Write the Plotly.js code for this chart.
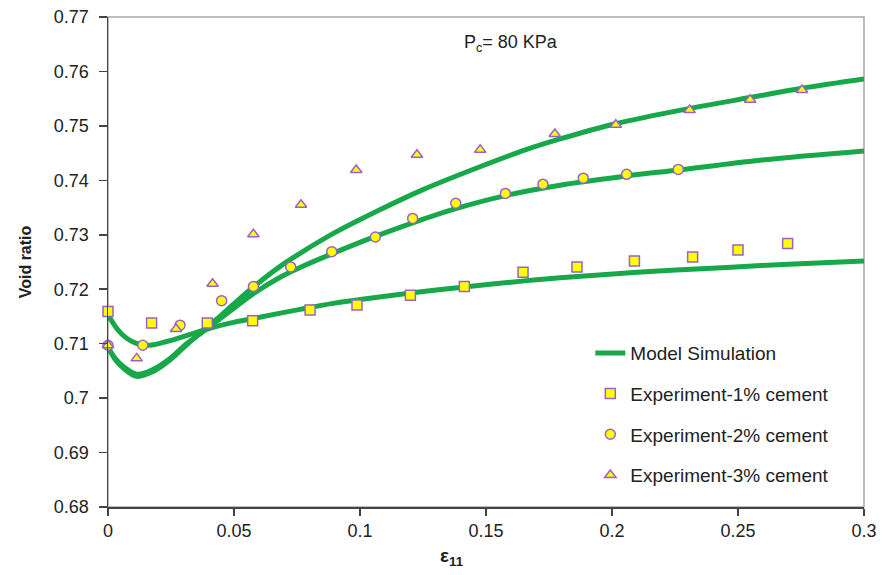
<!DOCTYPE html>
<html>
<head>
<meta charset="utf-8">
<script src="https://cdn.plot.ly/plotly-3.0.1.min.js"></script>
<style>html,body{margin:0;padding:0;background:#fff;}#chart{width:883px;height:575px;}</style>
</head>
<body>
<div id="chart"></div>
<script>
// Model simulation curves
var model1X = [0, 0.004, 0.0074, 0.011, 0.014, 0.018, 0.0233, 0.0339, 0.0394, 0.0497, 0.0574, 0.0762, 0.0893, 0.10, 0.12, 0.1414, 0.16, 0.1794, 0.21, 0.2455, 0.27, 0.3];
var model1Y = [0.7153, 0.7125, 0.7110, 0.7101, 0.7097, 0.7098, 0.7104, 0.7119, 0.7127, 0.7139, 0.7146, 0.7163, 0.7174, 0.7181, 0.7193, 0.7204, 0.7213, 0.7221, 0.7231, 0.7240, 0.7246, 0.7252];

var model2X = [0, 0.003, 0.0061, 0.0114, 0.018, 0.0246, 0.0312, 0.0392, 0.0451, 0.0497, 0.0577, 0.0683, 0.0762, 0.0888, 0.1061, 0.1209, 0.138, 0.1577, 0.1794, 0.2058, 0.2263, 0.2587, 0.3];
var model2Y = [0.7094, 0.7072, 0.7058, 0.7044, 0.7053, 0.7073, 0.7100, 0.7127, 0.7148, 0.7164, 0.7192, 0.7222, 0.7240, 0.7265, 0.7297, 0.7322, 0.7348, 0.7372, 0.7391, 0.7408, 0.7419, 0.7437, 0.7454];

var model3X = [0, 0.003, 0.0061, 0.0114, 0.018, 0.0246, 0.0312, 0.0392, 0.0451, 0.0497, 0.0577, 0.0683, 0.0762, 0.09, 0.1079, 0.125, 0.1476, 0.165, 0.1794, 0.2015, 0.2308, 0.2548, 0.2754, 0.3];
var model3Y = [0.7094, 0.7070, 0.7055, 0.7040, 0.7049, 0.7070, 0.7098, 0.7130, 0.7153, 0.7172, 0.7204, 0.7242, 0.7266, 0.7304, 0.7346, 0.7383, 0.7425, 0.7455, 0.7476, 0.7504, 0.7532, 0.7552, 0.7569, 0.7586];

// Experiments
var exp1X = [0, 0.0173, 0.0394, 0.0574, 0.0802, 0.0988, 0.12, 0.1414, 0.1647, 0.1861, 0.2089, 0.232, 0.25, 0.2697];
var exp1Y = [0.7159, 0.7138, 0.7138, 0.7142, 0.7162, 0.7171, 0.7189, 0.7205, 0.7231, 0.7241, 0.7252, 0.7259, 0.7272, 0.7284];

var exp2X = [0, 0.0138, 0.0286, 0.0451, 0.0577, 0.0725, 0.0888, 0.1061, 0.1209, 0.138, 0.1577, 0.1726, 0.1886, 0.2058, 0.2263];
var exp2Y = [0.7097, 0.7097, 0.7134, 0.7179, 0.7205, 0.7241, 0.7269, 0.7296, 0.7330, 0.7358, 0.7376, 0.7393, 0.7404, 0.7411, 0.7420];

var exp3X = [0, 0.0114, 0.027, 0.0415, 0.0577, 0.0766, 0.0985, 0.1226, 0.1477, 0.1773, 0.2015, 0.2308, 0.2548, 0.2754];
var exp3Y = [0.7097, 0.7073, 0.7127, 0.7210, 0.7301, 0.7355, 0.7419, 0.7447, 0.7456, 0.7485, 0.7502, 0.7529, 0.7548, 0.7566];

var xTicks = [0, 0.05, 0.1, 0.15, 0.2, 0.25, 0.3];
var yTicks = [0.68, 0.69, 0.70, 0.71, 0.72, 0.73, 0.74, 0.75, 0.76, 0.77];
var yTickText = ['0.68', '0.69', '0.7', '0.71', '0.72', '0.73', '0.74', '0.75', '0.76', '0.77'];
var xTickText = ['0', '0.05', '0.1', '0.15', '0.2', '0.25', '0.3'];

var GREEN = '#17a84a';
var FILL = '#ffff00';
var EDGE = '#9a62c8';
var FONT = 'Liberation Sans, Arial, sans-serif';

function modelTrace(x, y, show) {
  return {x: x, y: y, type: 'scatter', mode: 'lines', name: 'Model Simulation',
    line: {color: GREEN, width: 5, shape: 'spline', smoothing: 1},
    showlegend: show, legendgroup: 'm', cliponaxis: false};
}
function expTrace(x, y, name, sym, grp) {
  return {x: x, y: y, type: 'scatter', mode: 'markers', name: name, legendgroup: grp,
    marker: {symbol: sym, size: 10, color: FILL, line: {color: EDGE, width: 1.5}},
    cliponaxis: false};
}

var data = [
  modelTrace(model1X, model1Y, true),
  modelTrace(model2X, model2Y, false),
  modelTrace(model3X, model3Y, false),
  expTrace(exp1X, exp1Y, 'Experiment-1% cement', 'square', 'a'),
  expTrace(exp2X, exp2Y, 'Experiment-2% cement', 'circle', 'b'),
  expTrace(exp3X, exp3Y, 'Experiment-3% cement', 'triangle-up', 'c')
];

var layout = {
  width: 883, height: 575,
  margin: {l: 108, r: 19, t: 17, b: 68},
  paper_bgcolor: '#fff', plot_bgcolor: '#fff',
  font: {family: FONT, color: '#222', size: 18},
  showlegend: true,
  legend: {x: 0.638, y: 0.353, xanchor: 'left', yanchor: 'top', bgcolor: 'rgba(255,255,255,0)',
    font: {family: FONT, size: 19, color: '#222'}, traceorder: 'grouped', tracegroupgap: 13},
  xaxis: {range: [0, 0.3], tickvals: xTicks, ticktext: xTickText, ticks: 'outside', ticklen: 7,
    tickcolor: '#444', tickwidth: 1.5, showline: true, linecolor: '#444', linewidth: 1.5,
    showgrid: false, zeroline: false, tickfont: {size: 18}, fixedrange: true},
  yaxis: {range: [0.68, 0.77], tickvals: yTicks, ticktext: yTickText, ticks: 'outside', ticklen: 8,
    tickcolor: '#444', tickwidth: 1.5, showline: true, linecolor: '#444', linewidth: 1.5,
    showgrid: false, zeroline: false, tickfont: {size: 18}, ticklabelstandoff: 6,
    title: {text: '<b>Void ratio</b>', font: {size: 16}, standoff: 18}, fixedrange: true},
  shapes: [{type: 'rect', xref: 'paper', yref: 'paper', x0: 0, x1: 1, y0: 0, y1: 1,
    line: {color: '#a8a8a8', width: 1.5}, layer: 'below'}],
  annotations: [
    {xref: 'paper', yref: 'paper', x: 0.533, y: 0.9465, xanchor: 'center', yanchor: 'middle',
      text: 'P<sub>c</sub>= 80 KPa', showarrow: false, font: {size: 18, color: '#222'}},
    {xref: 'paper', yref: 'paper', x: 0.455, y: -0.103, xanchor: 'center', yanchor: 'middle',
      text: '<b>ε<sub>11</sub></b>', showarrow: false, font: {size: 19, color: '#222'}}
  ]
};

Plotly.newPlot('chart', data, layout, {displayModeBar: false, staticPlot: true});
</script>
</body>
</html>
